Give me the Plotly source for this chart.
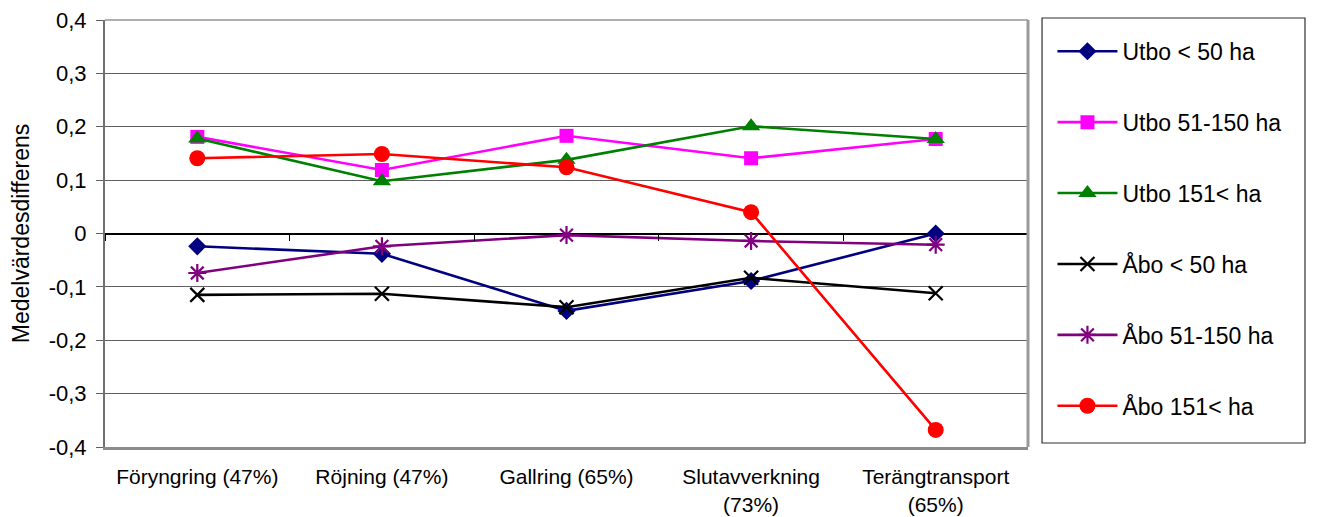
import plotly.graph_objects as go

categories = ["Föryngring (47%)", "Röjning (47%)", "Gallring (65%)",
              "Slutavverkning<br>(73%)", "Terängtransport<br>(65%)"]
cat_idx = [0, 1, 2, 3, 4]

utbo_lt50 = [-0.024, -0.038, -0.145, -0.089, 0.0]
utbo_51_150 = [0.181, 0.119, 0.183, 0.141, 0.177]
utbo_151 = [0.178, 0.098, 0.138, 0.201, 0.177]
abo_lt50 = [-0.115, -0.113, -0.138, -0.083, -0.112]
abo_51_150 = [-0.074, -0.024, -0.003, -0.014, -0.021]
abo_151 = [0.141, 0.149, 0.124, 0.040, -0.368]

series_names = ["Utbo < 50 ha", "Utbo 51-150 ha", "Utbo 151< ha",
                "Åbo < 50 ha", "Åbo 51-150 ha", "Åbo 151< ha"]

y_tick_vals = [-0.4, -0.3, -0.2, -0.1, 0, 0.1, 0.2, 0.3, 0.4]
y_tick_text = ["-0,4", "-0,3", "-0,2", "-0,1", "0", "0,1", "0,2", "0,3", "0,4"]
cat_boundaries = [-0.5, 0.5, 1.5, 2.5, 3.5, 4.5]

FONT = "Liberation Sans, Arial, sans-serif"

styles = [
    dict(color="#000080", symbol="diamond", size=14, lw=0),
    dict(color="#FF00FF", symbol="square", size=14, lw=0),
    dict(color="#008000", symbol="triangle-up", size=16, lw=0),
    dict(color="#000000", symbol="x-thin-open", size=14, lw=2.2),
    dict(color="#800080", symbol="asterisk-open", size=15, lw=2.2),
    dict(color="#FF0000", symbol="circle", size=16, lw=0),
]
data = [utbo_lt50, utbo_51_150, utbo_151, abo_lt50, abo_51_150, abo_151]

fig = go.Figure()
for i, (name, vals, st) in enumerate(zip(series_names, data, styles)):
    fig.add_trace(go.Scatter(
        x=cat_idx, y=vals, name=name, mode="lines+markers",
        legendgroup=f"g{i}",
        line=dict(color=st["color"], width=2.6),
        marker=dict(color=st["color"], symbol=st["symbol"], size=st["size"],
                    line=dict(color=st["color"], width=st["lw"])),
    ))

# invisible trace to carry the zero-line tick axis
fig.add_trace(go.Scatter(x=cat_boundaries, y=[0] * len(cat_boundaries), xaxis="x2",
                         mode="markers", marker=dict(opacity=0), showlegend=False,
                         hoverinfo="skip"))

fig.update_layout(
    width=1317, height=509,
    margin=dict(l=97, r=297, t=12, b=70, autoexpand=False),
    paper_bgcolor="white", plot_bgcolor="white",
    font=dict(family=FONT, color="black", size=21),
    showlegend=True,
    legend=dict(x=1.0265, xanchor="left", y=0.977, yanchor="top",
                font=dict(family=FONT, size=23, color="black"),
                bgcolor="rgba(0,0,0,0)", borderwidth=0,
                tracegroupgap=38, itemwidth=60),
    xaxis=dict(range=[-0.5, 4.5], tickmode="array", tickvals=cat_idx,
               ticktext=categories, showgrid=False, zeroline=False,
               ticks="", ticklabelstandoff=9, automargin=False,
               showline=True, linecolor="#8c8c8c", linewidth=3,
               tickfont=dict(family=FONT, size=21)),
    xaxis2=dict(range=[-0.5, 4.5], overlaying="x", anchor="free", position=0.5,
                tickmode="array", tickvals=cat_boundaries, ticks="outside",
                ticklen=6, tickcolor="black", tickwidth=1.2, automargin=False,
                showticklabels=False, showgrid=False, zeroline=False, showline=False),
    yaxis=dict(range=[-0.4, 0.4], tickmode="array", tickvals=y_tick_vals,
               ticktext=y_tick_text, showgrid=True, gridcolor="#606060",
               gridwidth=1.2, zeroline=True, zerolinecolor="black",
               zerolinewidth=1.5, ticks="outside", ticklen=7, automargin=False,
               ticklabeloverflow="allow", ticklabelstandoff=5,
               tickcolor="#606060", showline=True, linecolor="#707070",
               linewidth=2, mirror=False,
               tickfont=dict(family=FONT, size=22),
               title=dict(text="Medelvärdesdifferens", standoff=17,
                          font=dict(family=FONT, size=23))),
    separators=",.",
)

# top edge of plot area (0,4 gridline)
fig.add_shape(type="line", xref="paper", yref="paper", x0=0, x1=1, y0=1, y1=1,
              line=dict(color="#606060", width=1.2))
# right border of plot area
fig.add_shape(type="line", xref="paper", yref="paper", x0=1, x1=1, y0=0, y1=1,
              line=dict(color="#9a9a9a", width=3))
# legend frame
fig.add_shape(type="rect", xref="paper", yref="paper",
              x0=1.0152, x1=1.3001, y0=0.0094, y1=1.0047,
              line=dict(color="#303030", width=1.2))
# outer frame right edge
fig.add_shape(type="line", xref="paper", yref="paper", x0=1.3174, x1=1.3174,
              y0=-0.2, y1=1.1, line=dict(color="black", width=1.2))

fig.write_html("out.html")
